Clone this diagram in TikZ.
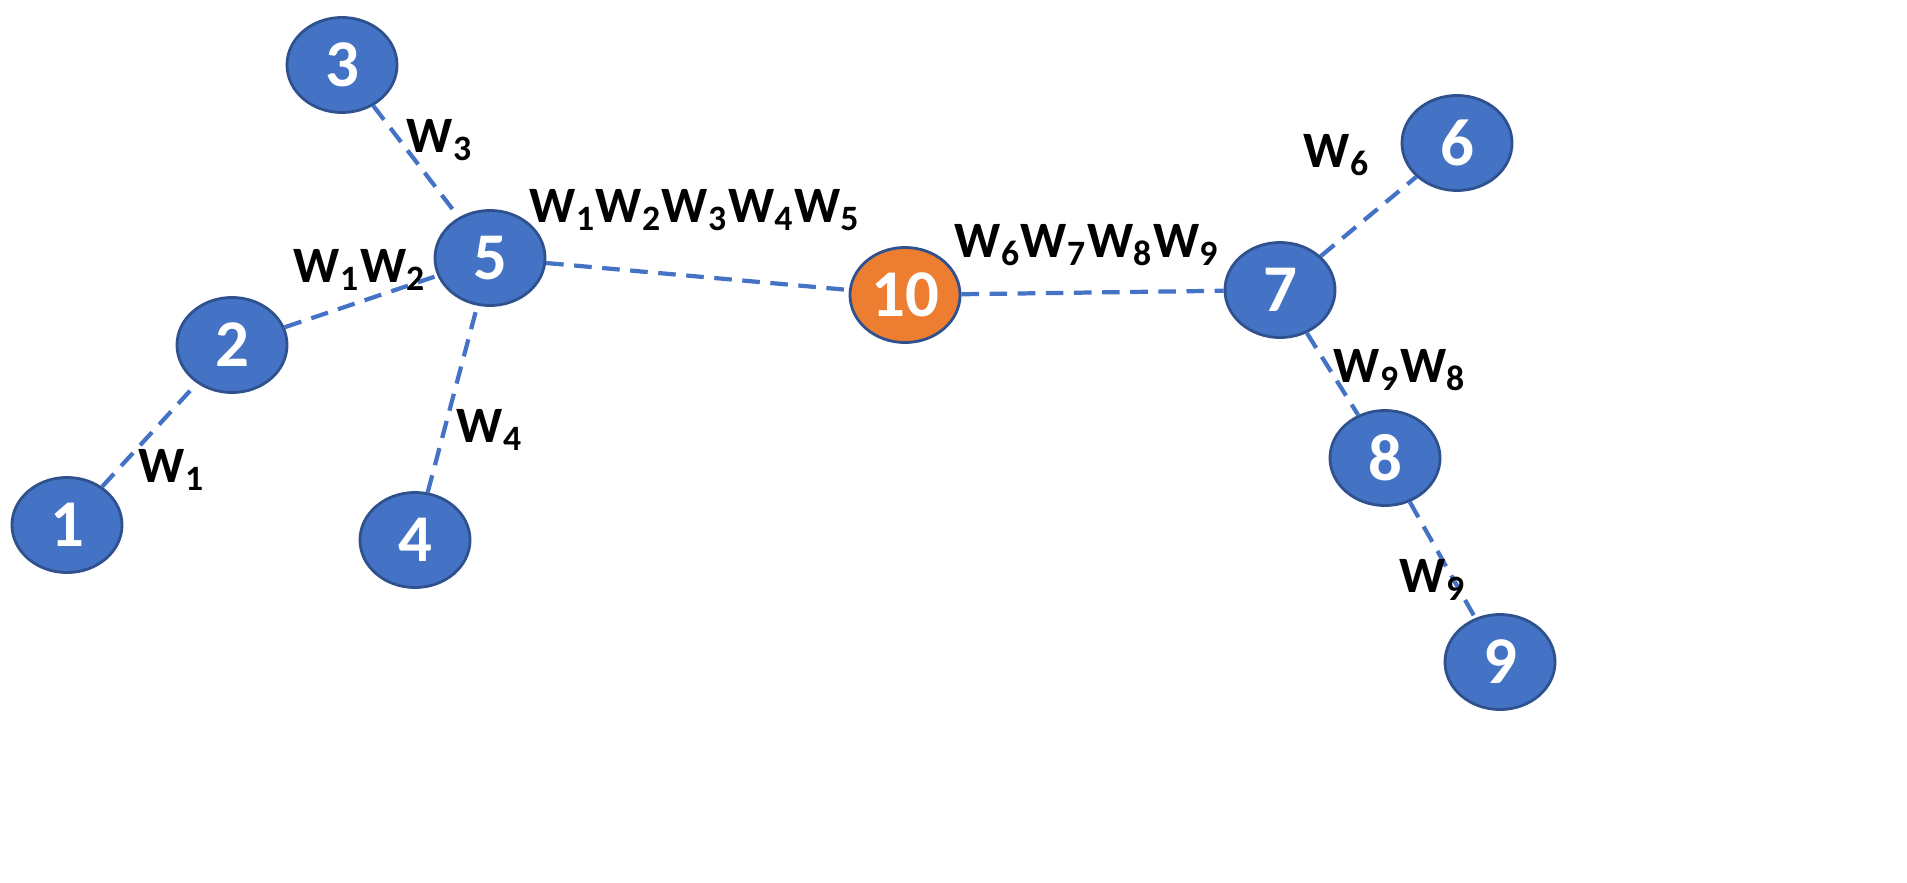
\documentclass[tikz,border=0pt]{standalone}
\usepackage{fontspec}
\setmainfont{Carlito}
\usetikzlibrary{shapes.geometric}
\definecolor{nblue}{HTML}{4472C4}
\definecolor{nedge}{HTML}{2F528F}
\definecolor{norange}{HTML}{ED7D31}
\begin{document}
\begin{tikzpicture}[x=0.01cm,y=-0.01cm,
  nd/.style={ellipse,draw=nedge,fill=nblue,line width=0.8pt,minimum width=1.1cm,minimum height=0.95cm,inner sep=0pt,text=white,font=\fontsize{19}{21}\selectfont\bfseries},
  on/.style={nd,fill=norange,draw=nedge},
  ed/.style={draw=nblue,line width=1.2pt,dash pattern=on 5pt off 3pt},
  lb/.style={font=\fontsize{14.5}{17}\selectfont\bfseries,text=black}]
\useasboundingbox (0,0) rectangle (1907,882);
\node[nd] (n1) at (67,525) {1};
\node[nd] (n2) at (232,345) {2};
\node[nd] (n3) at (342,65) {3};
\node[nd] (n4) at (415,540) {4};
\node[nd] (n5) at (490,258) {5};
\node[on] (n10) at (905,295) {10};
\node[nd] (n7) at (1280,290) {7};
\node[nd] (n6) at (1457,143) {6};
\node[nd] (n8) at (1385,458) {8};
\node[nd] (n9) at (1500,662) {9};
\draw[ed] (n1) -- (n2);
\draw[ed] (n2) -- (n5);
\draw[ed] (n3) -- (n5);
\draw[ed] (n4) -- (n5);
\draw[ed] (n5) -- (n10);
\draw[ed] (n10) -- (n7);
\draw[ed] (n7) -- (n6);
\draw[ed] (n7) -- (n8);
\draw[ed] (n8) -- (n9);
\node[lb] (l3) at (440,140) {W\textsubscript{3}};
\node[lb] (l12) at (360,270) {W\textsubscript{1}W\textsubscript{2}};
\node[lb] (l5) at (695,210) {W\textsubscript{1}W\textsubscript{2}W\textsubscript{3}W\textsubscript{4}W\textsubscript{5}};
\node[lb] (l4) at (490,430) {W\textsubscript{4}};
\node[lb] (l1) at (172,470) {W\textsubscript{1}};
\node[lb] (l9a) at (1087,245) {W\textsubscript{6}W\textsubscript{7}W\textsubscript{8}W\textsubscript{9}};
\node[lb] (l6) at (1337,155) {W\textsubscript{6}};
\node[lb] (l98) at (1400,370) {W\textsubscript{9}W\textsubscript{8}};
\node[lb] (l9) at (1433,580) {W\textsubscript{9}};
\end{tikzpicture}
\end{document}
